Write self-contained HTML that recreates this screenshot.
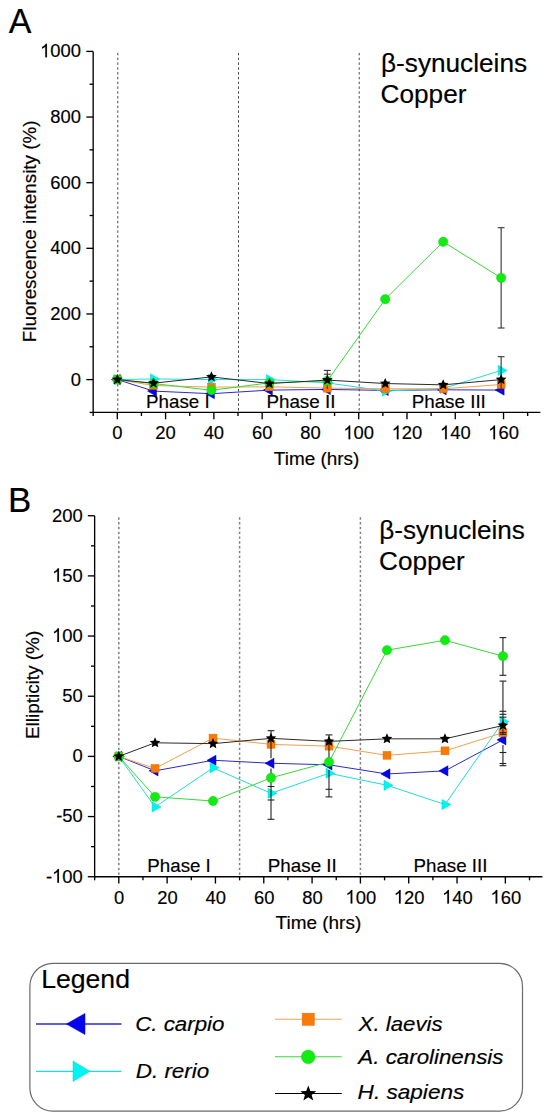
<!DOCTYPE html>
<html><head><meta charset="utf-8"><style>
html,body{margin:0;padding:0;background:#fff;width:550px;height:1119px;overflow:hidden}
svg{display:block}
</style></head><body>
<svg width="550" height="1119" viewBox="0 0 550 1119">
<rect width="550" height="1119" fill="#fff"/>
<line x1="117.80" y1="52.90" x2="117.80" y2="412.42" stroke="#444" stroke-width="1.0" stroke-dasharray="2.4 2.4"/>
<line x1="238.50" y1="52.90" x2="238.50" y2="412.42" stroke="#444" stroke-width="1.0" stroke-dasharray="2.4 2.4"/>
<line x1="359.20" y1="52.90" x2="359.20" y2="412.42" stroke="#444" stroke-width="1.0" stroke-dasharray="2.4 2.4"/>
<line x1="93.16" y1="51.40" x2="93.16" y2="413.10" stroke="#000" stroke-width="1.35"/>
<line x1="92.48" y1="412.42" x2="540.40" y2="412.42" stroke="#000" stroke-width="1.35"/>
<line x1="86.36" y1="51.40" x2="93.16" y2="51.40" stroke="#000" stroke-width="1.35"/>
<g transform="translate(40.07,57.30) scale(1,1.035)"><path transform="translate(0.00,0) scale(0.00898,-0.00898)" d="M763 0L583 0L583 1147C540 1106 483 1065 413 1024C343 983 280 952 223 931L223 1105C324 1152 412 1210 487 1278C562 1346 615 1412 646 1466L763 1466Z" fill="#000" stroke="#000" stroke-width="20.0"/><text x="10.23" y="0" font-size="18.4" font-family="Liberation Sans, sans-serif" stroke="#000" stroke-width="0.18">0</text><text x="20.47" y="0" font-size="18.4" font-family="Liberation Sans, sans-serif" stroke="#000" stroke-width="0.18">0</text><text x="30.70" y="0" font-size="18.4" font-family="Liberation Sans, sans-serif" stroke="#000" stroke-width="0.18">0</text></g>
<line x1="86.36" y1="117.04" x2="93.16" y2="117.04" stroke="#000" stroke-width="1.35"/>
<g transform="translate(50.30,122.94) scale(1,1.035)"><text x="0.00" y="0" font-size="18.4" font-family="Liberation Sans, sans-serif" stroke="#000" stroke-width="0.18">8</text><text x="10.23" y="0" font-size="18.4" font-family="Liberation Sans, sans-serif" stroke="#000" stroke-width="0.18">0</text><text x="20.47" y="0" font-size="18.4" font-family="Liberation Sans, sans-serif" stroke="#000" stroke-width="0.18">0</text></g>
<line x1="86.36" y1="182.68" x2="93.16" y2="182.68" stroke="#000" stroke-width="1.35"/>
<g transform="translate(50.30,188.58) scale(1,1.035)"><text x="0.00" y="0" font-size="18.4" font-family="Liberation Sans, sans-serif" stroke="#000" stroke-width="0.18">6</text><text x="10.23" y="0" font-size="18.4" font-family="Liberation Sans, sans-serif" stroke="#000" stroke-width="0.18">0</text><text x="20.47" y="0" font-size="18.4" font-family="Liberation Sans, sans-serif" stroke="#000" stroke-width="0.18">0</text></g>
<line x1="86.36" y1="248.32" x2="93.16" y2="248.32" stroke="#000" stroke-width="1.35"/>
<g transform="translate(50.30,254.22) scale(1,1.035)"><text x="0.00" y="0" font-size="18.4" font-family="Liberation Sans, sans-serif" stroke="#000" stroke-width="0.18">4</text><text x="10.23" y="0" font-size="18.4" font-family="Liberation Sans, sans-serif" stroke="#000" stroke-width="0.18">0</text><text x="20.47" y="0" font-size="18.4" font-family="Liberation Sans, sans-serif" stroke="#000" stroke-width="0.18">0</text></g>
<line x1="86.36" y1="313.96" x2="93.16" y2="313.96" stroke="#000" stroke-width="1.35"/>
<g transform="translate(50.30,319.86) scale(1,1.035)"><text x="0.00" y="0" font-size="18.4" font-family="Liberation Sans, sans-serif" stroke="#000" stroke-width="0.18">2</text><text x="10.23" y="0" font-size="18.4" font-family="Liberation Sans, sans-serif" stroke="#000" stroke-width="0.18">0</text><text x="20.47" y="0" font-size="18.4" font-family="Liberation Sans, sans-serif" stroke="#000" stroke-width="0.18">0</text></g>
<line x1="86.36" y1="379.60" x2="93.16" y2="379.60" stroke="#000" stroke-width="1.35"/>
<g transform="translate(70.77,385.50) scale(1,1.035)"><text x="0.00" y="0" font-size="18.4" font-family="Liberation Sans, sans-serif" stroke="#000" stroke-width="0.18">0</text></g>
<line x1="89.56" y1="84.22" x2="93.16" y2="84.22" stroke="#000" stroke-width="1.35"/>
<line x1="89.56" y1="149.86" x2="93.16" y2="149.86" stroke="#000" stroke-width="1.35"/>
<line x1="89.56" y1="215.50" x2="93.16" y2="215.50" stroke="#000" stroke-width="1.35"/>
<line x1="89.56" y1="281.14" x2="93.16" y2="281.14" stroke="#000" stroke-width="1.35"/>
<line x1="89.56" y1="346.78" x2="93.16" y2="346.78" stroke="#000" stroke-width="1.35"/>
<line x1="89.56" y1="412.42" x2="93.16" y2="412.42" stroke="#000" stroke-width="1.35"/>
<line x1="93.16" y1="412.42" x2="93.16" y2="416.02" stroke="#000" stroke-width="1.35"/>
<line x1="117.30" y1="412.42" x2="117.30" y2="419.22" stroke="#000" stroke-width="1.35"/>
<g transform="translate(112.18,439.20) scale(1,1.035)"><text x="0.00" y="0" font-size="18.4" font-family="Liberation Sans, sans-serif" stroke="#000" stroke-width="0.18">0</text></g>
<line x1="141.44" y1="412.42" x2="141.44" y2="416.02" stroke="#000" stroke-width="1.35"/>
<line x1="165.58" y1="412.42" x2="165.58" y2="419.22" stroke="#000" stroke-width="1.35"/>
<g transform="translate(155.35,439.20) scale(1,1.035)"><text x="0.00" y="0" font-size="18.4" font-family="Liberation Sans, sans-serif" stroke="#000" stroke-width="0.18">2</text><text x="10.23" y="0" font-size="18.4" font-family="Liberation Sans, sans-serif" stroke="#000" stroke-width="0.18">0</text></g>
<line x1="189.72" y1="412.42" x2="189.72" y2="416.02" stroke="#000" stroke-width="1.35"/>
<line x1="213.86" y1="412.42" x2="213.86" y2="419.22" stroke="#000" stroke-width="1.35"/>
<g transform="translate(203.63,439.20) scale(1,1.035)"><text x="0.00" y="0" font-size="18.4" font-family="Liberation Sans, sans-serif" stroke="#000" stroke-width="0.18">4</text><text x="10.23" y="0" font-size="18.4" font-family="Liberation Sans, sans-serif" stroke="#000" stroke-width="0.18">0</text></g>
<line x1="238.00" y1="412.42" x2="238.00" y2="416.02" stroke="#000" stroke-width="1.35"/>
<line x1="262.14" y1="412.42" x2="262.14" y2="419.22" stroke="#000" stroke-width="1.35"/>
<g transform="translate(251.91,439.20) scale(1,1.035)"><text x="0.00" y="0" font-size="18.4" font-family="Liberation Sans, sans-serif" stroke="#000" stroke-width="0.18">6</text><text x="10.23" y="0" font-size="18.4" font-family="Liberation Sans, sans-serif" stroke="#000" stroke-width="0.18">0</text></g>
<line x1="286.28" y1="412.42" x2="286.28" y2="416.02" stroke="#000" stroke-width="1.35"/>
<line x1="310.42" y1="412.42" x2="310.42" y2="419.22" stroke="#000" stroke-width="1.35"/>
<g transform="translate(300.19,439.20) scale(1,1.035)"><text x="0.00" y="0" font-size="18.4" font-family="Liberation Sans, sans-serif" stroke="#000" stroke-width="0.18">8</text><text x="10.23" y="0" font-size="18.4" font-family="Liberation Sans, sans-serif" stroke="#000" stroke-width="0.18">0</text></g>
<line x1="334.56" y1="412.42" x2="334.56" y2="416.02" stroke="#000" stroke-width="1.35"/>
<line x1="358.70" y1="412.42" x2="358.70" y2="419.22" stroke="#000" stroke-width="1.35"/>
<g transform="translate(343.35,439.20) scale(1,1.035)"><path transform="translate(0.00,0) scale(0.00898,-0.00898)" d="M763 0L583 0L583 1147C540 1106 483 1065 413 1024C343 983 280 952 223 931L223 1105C324 1152 412 1210 487 1278C562 1346 615 1412 646 1466L763 1466Z" fill="#000" stroke="#000" stroke-width="20.0"/><text x="10.23" y="0" font-size="18.4" font-family="Liberation Sans, sans-serif" stroke="#000" stroke-width="0.18">0</text><text x="20.47" y="0" font-size="18.4" font-family="Liberation Sans, sans-serif" stroke="#000" stroke-width="0.18">0</text></g>
<line x1="382.84" y1="412.42" x2="382.84" y2="416.02" stroke="#000" stroke-width="1.35"/>
<line x1="406.98" y1="412.42" x2="406.98" y2="419.22" stroke="#000" stroke-width="1.35"/>
<g transform="translate(391.63,439.20) scale(1,1.035)"><path transform="translate(0.00,0) scale(0.00898,-0.00898)" d="M763 0L583 0L583 1147C540 1106 483 1065 413 1024C343 983 280 952 223 931L223 1105C324 1152 412 1210 487 1278C562 1346 615 1412 646 1466L763 1466Z" fill="#000" stroke="#000" stroke-width="20.0"/><text x="10.23" y="0" font-size="18.4" font-family="Liberation Sans, sans-serif" stroke="#000" stroke-width="0.18">2</text><text x="20.47" y="0" font-size="18.4" font-family="Liberation Sans, sans-serif" stroke="#000" stroke-width="0.18">0</text></g>
<line x1="431.12" y1="412.42" x2="431.12" y2="416.02" stroke="#000" stroke-width="1.35"/>
<line x1="455.26" y1="412.42" x2="455.26" y2="419.22" stroke="#000" stroke-width="1.35"/>
<g transform="translate(439.91,439.20) scale(1,1.035)"><path transform="translate(0.00,0) scale(0.00898,-0.00898)" d="M763 0L583 0L583 1147C540 1106 483 1065 413 1024C343 983 280 952 223 931L223 1105C324 1152 412 1210 487 1278C562 1346 615 1412 646 1466L763 1466Z" fill="#000" stroke="#000" stroke-width="20.0"/><text x="10.23" y="0" font-size="18.4" font-family="Liberation Sans, sans-serif" stroke="#000" stroke-width="0.18">4</text><text x="20.47" y="0" font-size="18.4" font-family="Liberation Sans, sans-serif" stroke="#000" stroke-width="0.18">0</text></g>
<line x1="479.40" y1="412.42" x2="479.40" y2="416.02" stroke="#000" stroke-width="1.35"/>
<line x1="503.54" y1="412.42" x2="503.54" y2="419.22" stroke="#000" stroke-width="1.35"/>
<g transform="translate(488.19,439.20) scale(1,1.035)"><path transform="translate(0.00,0) scale(0.00898,-0.00898)" d="M763 0L583 0L583 1147C540 1106 483 1065 413 1024C343 983 280 952 223 931L223 1105C324 1152 412 1210 487 1278C562 1346 615 1412 646 1466L763 1466Z" fill="#000" stroke="#000" stroke-width="20.0"/><text x="10.23" y="0" font-size="18.4" font-family="Liberation Sans, sans-serif" stroke="#000" stroke-width="0.18">6</text><text x="20.47" y="0" font-size="18.4" font-family="Liberation Sans, sans-serif" stroke="#000" stroke-width="0.18">0</text></g>
<line x1="527.68" y1="412.42" x2="527.68" y2="416.02" stroke="#000" stroke-width="1.35"/>
<text transform="translate(273.82,464.50) scale(1.0078,1)" font-size="18.8" font-family="Liberation Sans, sans-serif" stroke="#000" stroke-width="0.18">Time (hrs)</text>
<text transform="translate(36.00,342.20) rotate(-90) scale(1.0016,1)" font-size="18.8" font-family="Liberation Sans, sans-serif" stroke="#000" stroke-width="0.18">Fluorescence intensity (%)</text>
<text transform="translate(146.02,408.40) scale(1.0732,1)" font-size="17.5" font-family="Liberation Sans, sans-serif" stroke="#000" stroke-width="0.18">Phase I</text>
<text transform="translate(266.42,408.40) scale(1.0743,1)" font-size="17.5" font-family="Liberation Sans, sans-serif" stroke="#000" stroke-width="0.18">Phase II</text>
<text transform="translate(411.72,408.40) scale(1.0737,1)" font-size="17.5" font-family="Liberation Sans, sans-serif" stroke="#000" stroke-width="0.18">Phase III</text>
<text transform="translate(8.68,33.10) scale(0.9846,1)" font-size="34.5" font-family="Liberation Sans, sans-serif" stroke="#000" stroke-width="0.18">A</text>
<text transform="translate(381.02,72.00) scale(1.0000,1)" font-size="26.2" font-family="Liberation Sans, sans-serif" stroke="#000" stroke-width="0.18">β-synucleins</text>
<text transform="translate(380.52,103.40) scale(1.0006,1)" font-size="26.2" font-family="Liberation Sans, sans-serif" stroke="#000" stroke-width="0.18">Copper</text>
<polyline points="117.30,379.60 153.51,391.09 211.45,393.71 269.38,390.10 327.32,389.45 385.25,390.43 443.19,389.77 501.13,390.10" fill="none" stroke="#2a2ac8" stroke-width="1.0"/>
<polygon points="111.30,379.60 120.30,374.50 120.30,384.70" fill="#0404ee" stroke="#0000a0" stroke-width="0.5" stroke-linejoin="round"/>
<polygon points="147.51,391.09 156.51,385.99 156.51,396.19" fill="#0404ee" stroke="#0000a0" stroke-width="0.5" stroke-linejoin="round"/>
<polygon points="205.45,393.71 214.45,388.61 214.45,398.81" fill="#0404ee" stroke="#0000a0" stroke-width="0.5" stroke-linejoin="round"/>
<polygon points="263.38,390.10 272.38,385.00 272.38,395.20" fill="#0404ee" stroke="#0000a0" stroke-width="0.5" stroke-linejoin="round"/>
<polygon points="321.32,389.45 330.32,384.35 330.32,394.55" fill="#0404ee" stroke="#0000a0" stroke-width="0.5" stroke-linejoin="round"/>
<polygon points="379.25,390.43 388.25,385.33 388.25,395.53" fill="#0404ee" stroke="#0000a0" stroke-width="0.5" stroke-linejoin="round"/>
<polygon points="437.19,389.77 446.19,384.67 446.19,394.87" fill="#0404ee" stroke="#0000a0" stroke-width="0.5" stroke-linejoin="round"/>
<polygon points="495.13,390.10 504.13,385.00 504.13,395.20" fill="#0404ee" stroke="#0000a0" stroke-width="0.5" stroke-linejoin="round"/>
<polyline points="117.30,379.60 153.51,378.94 211.45,379.60 269.38,379.60 327.32,382.88 385.25,391.09 443.19,388.46 501.13,370.41" fill="none" stroke="#22dcdc" stroke-width="1.0"/>
<polygon points="123.30,379.60 114.30,374.50 114.30,384.70" fill="#00f4f0" stroke="#00d8d8" stroke-width="0.5" stroke-linejoin="round"/>
<polygon points="159.51,378.94 150.51,373.84 150.51,384.04" fill="#00f4f0" stroke="#00d8d8" stroke-width="0.5" stroke-linejoin="round"/>
<polygon points="217.45,379.60 208.45,374.50 208.45,384.70" fill="#00f4f0" stroke="#00d8d8" stroke-width="0.5" stroke-linejoin="round"/>
<polygon points="275.38,379.60 266.38,374.50 266.38,384.70" fill="#00f4f0" stroke="#00d8d8" stroke-width="0.5" stroke-linejoin="round"/>
<polygon points="333.32,382.88 324.32,377.78 324.32,387.98" fill="#00f4f0" stroke="#00d8d8" stroke-width="0.5" stroke-linejoin="round"/>
<polygon points="391.25,391.09 382.25,385.99 382.25,396.19" fill="#00f4f0" stroke="#00d8d8" stroke-width="0.5" stroke-linejoin="round"/>
<polygon points="449.19,388.46 440.19,383.36 440.19,393.56" fill="#00f4f0" stroke="#00d8d8" stroke-width="0.5" stroke-linejoin="round"/>
<polygon points="507.13,370.41 498.13,365.31 498.13,375.51" fill="#00f4f0" stroke="#00d8d8" stroke-width="0.5" stroke-linejoin="round"/>
<polyline points="117.30,379.60 153.51,385.51 211.45,387.15 269.38,386.82 327.32,388.13 385.25,388.79 443.19,388.79 501.13,384.52" fill="none" stroke="#f3a04c" stroke-width="1.0"/>
<rect x="113.30" y="375.60" width="8.00" height="8.00" fill="#f87b0a" stroke="#e06a00" stroke-width="0.4"/>
<rect x="149.51" y="381.51" width="8.00" height="8.00" fill="#f87b0a" stroke="#e06a00" stroke-width="0.4"/>
<rect x="207.45" y="383.15" width="8.00" height="8.00" fill="#f87b0a" stroke="#e06a00" stroke-width="0.4"/>
<rect x="265.38" y="382.82" width="8.00" height="8.00" fill="#f87b0a" stroke="#e06a00" stroke-width="0.4"/>
<rect x="323.32" y="384.13" width="8.00" height="8.00" fill="#f87b0a" stroke="#e06a00" stroke-width="0.4"/>
<rect x="381.25" y="384.79" width="8.00" height="8.00" fill="#f87b0a" stroke="#e06a00" stroke-width="0.4"/>
<rect x="439.19" y="384.79" width="8.00" height="8.00" fill="#f87b0a" stroke="#e06a00" stroke-width="0.4"/>
<rect x="497.13" y="380.52" width="8.00" height="8.00" fill="#f87b0a" stroke="#e06a00" stroke-width="0.4"/>
<line x1="327.32" y1="370.40" x2="327.32" y2="389.00" stroke="#333" stroke-width="1.1"/>
<line x1="501.13" y1="227.70" x2="501.13" y2="328.00" stroke="#333" stroke-width="1.1"/>
<line x1="501.13" y1="356.70" x2="501.13" y2="392.00" stroke="#333" stroke-width="1.1"/>
<line x1="323.92" y1="370.40" x2="330.72" y2="370.40" stroke="#333" stroke-width="1.1"/>
<line x1="323.92" y1="374.20" x2="330.72" y2="374.20" stroke="#333" stroke-width="1.1"/>
<line x1="497.73" y1="227.70" x2="504.53" y2="227.70" stroke="#333" stroke-width="1.1"/>
<line x1="497.73" y1="328.00" x2="504.53" y2="328.00" stroke="#333" stroke-width="1.1"/>
<line x1="497.73" y1="356.70" x2="504.53" y2="356.70" stroke="#333" stroke-width="1.1"/>
<polyline points="117.30,379.60 153.51,383.54 211.45,390.27 269.38,382.88 327.32,380.91 385.25,299.19 443.19,241.76 501.13,277.86" fill="none" stroke="#38d838" stroke-width="1.0"/>
<circle cx="117.30" cy="379.60" r="4.70" fill="#12ec12" stroke="#10d010" stroke-width="0.4"/>
<circle cx="153.51" cy="383.54" r="4.70" fill="#12ec12" stroke="#10d010" stroke-width="0.4"/>
<circle cx="211.45" cy="390.27" r="4.70" fill="#12ec12" stroke="#10d010" stroke-width="0.4"/>
<circle cx="269.38" cy="382.88" r="4.70" fill="#12ec12" stroke="#10d010" stroke-width="0.4"/>
<circle cx="327.32" cy="380.91" r="4.70" fill="#12ec12" stroke="#10d010" stroke-width="0.4"/>
<circle cx="385.25" cy="299.19" r="4.70" fill="#12ec12" stroke="#10d010" stroke-width="0.4"/>
<circle cx="443.19" cy="241.76" r="4.70" fill="#12ec12" stroke="#10d010" stroke-width="0.4"/>
<circle cx="501.13" cy="277.86" r="4.70" fill="#12ec12" stroke="#10d010" stroke-width="0.4"/>
<polyline points="117.30,379.60 153.51,383.21 211.45,376.91 269.38,383.54 327.32,380.09 385.25,383.54 443.19,384.85 501.13,379.60" fill="none" stroke="#2a2a2a" stroke-width="1.0"/>
<polygon points="117.30,374.00 118.85,377.47 122.63,377.87 119.80,380.41 120.59,384.13 117.30,382.23 114.01,384.13 114.80,380.41 111.97,377.87 115.75,377.47" fill="#000"/>
<polygon points="153.51,377.61 155.06,381.08 158.84,381.48 156.01,384.02 156.80,387.74 153.51,385.84 150.22,387.74 151.01,384.02 148.18,381.48 151.96,381.08" fill="#000"/>
<polygon points="211.45,371.31 212.99,374.78 216.77,375.18 213.95,377.72 214.74,381.44 211.45,379.54 208.15,381.44 208.94,377.72 206.12,375.18 209.90,374.78" fill="#000"/>
<polygon points="269.38,377.94 270.93,381.41 274.71,381.81 271.89,384.35 272.67,388.07 269.38,386.17 266.09,388.07 266.88,384.35 264.06,381.81 267.83,381.41" fill="#000"/>
<polygon points="327.32,374.49 328.87,377.96 332.64,378.36 329.82,380.91 330.61,384.62 327.32,382.72 324.03,384.62 324.81,380.91 321.99,378.36 325.77,377.96" fill="#000"/>
<polygon points="385.25,377.94 386.80,381.41 390.58,381.81 387.76,384.35 388.55,388.07 385.25,386.17 381.96,388.07 382.75,384.35 379.93,381.81 383.71,381.41" fill="#000"/>
<polygon points="443.19,379.25 444.74,382.72 448.52,383.12 445.69,385.66 446.48,389.38 443.19,387.48 439.90,389.38 440.69,385.66 437.86,383.12 441.64,382.72" fill="#000"/>
<polygon points="501.13,374.00 502.67,377.47 506.45,377.87 503.63,380.41 504.42,384.13 501.13,382.23 497.83,384.13 498.62,380.41 495.80,377.87 499.58,377.47" fill="#000"/>
<line x1="118.80" y1="517.24" x2="118.80" y2="876.73" stroke="#808080" stroke-width="1.5" stroke-dasharray="2.4 2.4"/>
<line x1="239.60" y1="517.24" x2="239.60" y2="876.73" stroke="#808080" stroke-width="1.5" stroke-dasharray="2.4 2.4"/>
<line x1="360.40" y1="517.24" x2="360.40" y2="876.73" stroke="#808080" stroke-width="1.5" stroke-dasharray="2.4 2.4"/>
<line x1="94.64" y1="515.74" x2="94.64" y2="877.40" stroke="#000" stroke-width="1.35"/>
<line x1="93.97" y1="876.73" x2="542.40" y2="876.73" stroke="#000" stroke-width="1.35"/>
<line x1="87.84" y1="515.74" x2="94.64" y2="515.74" stroke="#000" stroke-width="1.35"/>
<g transform="translate(52.10,521.64) scale(1,1.035)"><text x="0.00" y="0" font-size="18.4" font-family="Liberation Sans, sans-serif" stroke="#000" stroke-width="0.18">2</text><text x="10.23" y="0" font-size="18.4" font-family="Liberation Sans, sans-serif" stroke="#000" stroke-width="0.18">0</text><text x="20.47" y="0" font-size="18.4" font-family="Liberation Sans, sans-serif" stroke="#000" stroke-width="0.18">0</text></g>
<line x1="87.84" y1="575.90" x2="94.64" y2="575.90" stroke="#000" stroke-width="1.35"/>
<g transform="translate(52.10,581.80) scale(1,1.035)"><path transform="translate(0.00,0) scale(0.00898,-0.00898)" d="M763 0L583 0L583 1147C540 1106 483 1065 413 1024C343 983 280 952 223 931L223 1105C324 1152 412 1210 487 1278C562 1346 615 1412 646 1466L763 1466Z" fill="#000" stroke="#000" stroke-width="20.0"/><text x="10.23" y="0" font-size="18.4" font-family="Liberation Sans, sans-serif" stroke="#000" stroke-width="0.18">5</text><text x="20.47" y="0" font-size="18.4" font-family="Liberation Sans, sans-serif" stroke="#000" stroke-width="0.18">0</text></g>
<line x1="87.84" y1="636.07" x2="94.64" y2="636.07" stroke="#000" stroke-width="1.35"/>
<g transform="translate(52.10,641.97) scale(1,1.035)"><path transform="translate(0.00,0) scale(0.00898,-0.00898)" d="M763 0L583 0L583 1147C540 1106 483 1065 413 1024C343 983 280 952 223 931L223 1105C324 1152 412 1210 487 1278C562 1346 615 1412 646 1466L763 1466Z" fill="#000" stroke="#000" stroke-width="20.0"/><text x="10.23" y="0" font-size="18.4" font-family="Liberation Sans, sans-serif" stroke="#000" stroke-width="0.18">0</text><text x="20.47" y="0" font-size="18.4" font-family="Liberation Sans, sans-serif" stroke="#000" stroke-width="0.18">0</text></g>
<line x1="87.84" y1="696.24" x2="94.64" y2="696.24" stroke="#000" stroke-width="1.35"/>
<g transform="translate(62.33,702.13) scale(1,1.035)"><text x="0.00" y="0" font-size="18.4" font-family="Liberation Sans, sans-serif" stroke="#000" stroke-width="0.18">5</text><text x="10.23" y="0" font-size="18.4" font-family="Liberation Sans, sans-serif" stroke="#000" stroke-width="0.18">0</text></g>
<line x1="87.84" y1="756.40" x2="94.64" y2="756.40" stroke="#000" stroke-width="1.35"/>
<g transform="translate(72.57,762.30) scale(1,1.035)"><text x="0.00" y="0" font-size="18.4" font-family="Liberation Sans, sans-serif" stroke="#000" stroke-width="0.18">0</text></g>
<line x1="87.84" y1="816.56" x2="94.64" y2="816.56" stroke="#000" stroke-width="1.35"/>
<g transform="translate(56.21,822.46) scale(1,1.035)"><text x="0.00" y="0" font-size="18.4" font-family="Liberation Sans, sans-serif" stroke="#000" stroke-width="0.18">-</text><text x="6.13" y="0" font-size="18.4" font-family="Liberation Sans, sans-serif" stroke="#000" stroke-width="0.18">5</text><text x="16.36" y="0" font-size="18.4" font-family="Liberation Sans, sans-serif" stroke="#000" stroke-width="0.18">0</text></g>
<line x1="87.84" y1="876.73" x2="94.64" y2="876.73" stroke="#000" stroke-width="1.35"/>
<g transform="translate(45.97,882.63) scale(1,1.035)"><text x="0.00" y="0" font-size="18.4" font-family="Liberation Sans, sans-serif" stroke="#000" stroke-width="0.18">-</text><path transform="translate(6.13,0) scale(0.00898,-0.00898)" d="M763 0L583 0L583 1147C540 1106 483 1065 413 1024C343 983 280 952 223 931L223 1105C324 1152 412 1210 487 1278C562 1346 615 1412 646 1466L763 1466Z" fill="#000" stroke="#000" stroke-width="20.0"/><text x="16.36" y="0" font-size="18.4" font-family="Liberation Sans, sans-serif" stroke="#000" stroke-width="0.18">0</text><text x="26.59" y="0" font-size="18.4" font-family="Liberation Sans, sans-serif" stroke="#000" stroke-width="0.18">0</text></g>
<line x1="91.04" y1="545.82" x2="94.64" y2="545.82" stroke="#000" stroke-width="1.35"/>
<line x1="91.04" y1="605.99" x2="94.64" y2="605.99" stroke="#000" stroke-width="1.35"/>
<line x1="91.04" y1="666.15" x2="94.64" y2="666.15" stroke="#000" stroke-width="1.35"/>
<line x1="91.04" y1="726.32" x2="94.64" y2="726.32" stroke="#000" stroke-width="1.35"/>
<line x1="91.04" y1="786.48" x2="94.64" y2="786.48" stroke="#000" stroke-width="1.35"/>
<line x1="91.04" y1="846.65" x2="94.64" y2="846.65" stroke="#000" stroke-width="1.35"/>
<line x1="94.64" y1="876.73" x2="94.64" y2="880.33" stroke="#000" stroke-width="1.35"/>
<line x1="118.80" y1="876.73" x2="118.80" y2="883.53" stroke="#000" stroke-width="1.35"/>
<g transform="translate(114.08,903.60) scale(1,1.035)"><text x="0.00" y="0" font-size="18.4" font-family="Liberation Sans, sans-serif" stroke="#000" stroke-width="0.18">0</text></g>
<line x1="142.96" y1="876.73" x2="142.96" y2="880.33" stroke="#000" stroke-width="1.35"/>
<line x1="167.12" y1="876.73" x2="167.12" y2="883.53" stroke="#000" stroke-width="1.35"/>
<g transform="translate(157.29,903.60) scale(1,1.035)"><text x="0.00" y="0" font-size="18.4" font-family="Liberation Sans, sans-serif" stroke="#000" stroke-width="0.18">2</text><text x="10.23" y="0" font-size="18.4" font-family="Liberation Sans, sans-serif" stroke="#000" stroke-width="0.18">0</text></g>
<line x1="191.28" y1="876.73" x2="191.28" y2="880.33" stroke="#000" stroke-width="1.35"/>
<line x1="215.44" y1="876.73" x2="215.44" y2="883.53" stroke="#000" stroke-width="1.35"/>
<g transform="translate(205.61,903.60) scale(1,1.035)"><text x="0.00" y="0" font-size="18.4" font-family="Liberation Sans, sans-serif" stroke="#000" stroke-width="0.18">4</text><text x="10.23" y="0" font-size="18.4" font-family="Liberation Sans, sans-serif" stroke="#000" stroke-width="0.18">0</text></g>
<line x1="239.60" y1="876.73" x2="239.60" y2="880.33" stroke="#000" stroke-width="1.35"/>
<line x1="263.76" y1="876.73" x2="263.76" y2="883.53" stroke="#000" stroke-width="1.35"/>
<g transform="translate(253.93,903.60) scale(1,1.035)"><text x="0.00" y="0" font-size="18.4" font-family="Liberation Sans, sans-serif" stroke="#000" stroke-width="0.18">6</text><text x="10.23" y="0" font-size="18.4" font-family="Liberation Sans, sans-serif" stroke="#000" stroke-width="0.18">0</text></g>
<line x1="287.92" y1="876.73" x2="287.92" y2="880.33" stroke="#000" stroke-width="1.35"/>
<line x1="312.08" y1="876.73" x2="312.08" y2="883.53" stroke="#000" stroke-width="1.35"/>
<g transform="translate(302.25,903.60) scale(1,1.035)"><text x="0.00" y="0" font-size="18.4" font-family="Liberation Sans, sans-serif" stroke="#000" stroke-width="0.18">8</text><text x="10.23" y="0" font-size="18.4" font-family="Liberation Sans, sans-serif" stroke="#000" stroke-width="0.18">0</text></g>
<line x1="336.24" y1="876.73" x2="336.24" y2="880.33" stroke="#000" stroke-width="1.35"/>
<line x1="360.40" y1="876.73" x2="360.40" y2="883.53" stroke="#000" stroke-width="1.35"/>
<g transform="translate(345.45,903.60) scale(1,1.035)"><path transform="translate(0.00,0) scale(0.00898,-0.00898)" d="M763 0L583 0L583 1147C540 1106 483 1065 413 1024C343 983 280 952 223 931L223 1105C324 1152 412 1210 487 1278C562 1346 615 1412 646 1466L763 1466Z" fill="#000" stroke="#000" stroke-width="20.0"/><text x="10.23" y="0" font-size="18.4" font-family="Liberation Sans, sans-serif" stroke="#000" stroke-width="0.18">0</text><text x="20.47" y="0" font-size="18.4" font-family="Liberation Sans, sans-serif" stroke="#000" stroke-width="0.18">0</text></g>
<line x1="384.56" y1="876.73" x2="384.56" y2="880.33" stroke="#000" stroke-width="1.35"/>
<line x1="408.72" y1="876.73" x2="408.72" y2="883.53" stroke="#000" stroke-width="1.35"/>
<g transform="translate(393.77,903.60) scale(1,1.035)"><path transform="translate(0.00,0) scale(0.00898,-0.00898)" d="M763 0L583 0L583 1147C540 1106 483 1065 413 1024C343 983 280 952 223 931L223 1105C324 1152 412 1210 487 1278C562 1346 615 1412 646 1466L763 1466Z" fill="#000" stroke="#000" stroke-width="20.0"/><text x="10.23" y="0" font-size="18.4" font-family="Liberation Sans, sans-serif" stroke="#000" stroke-width="0.18">2</text><text x="20.47" y="0" font-size="18.4" font-family="Liberation Sans, sans-serif" stroke="#000" stroke-width="0.18">0</text></g>
<line x1="432.88" y1="876.73" x2="432.88" y2="880.33" stroke="#000" stroke-width="1.35"/>
<line x1="457.04" y1="876.73" x2="457.04" y2="883.53" stroke="#000" stroke-width="1.35"/>
<g transform="translate(442.09,903.60) scale(1,1.035)"><path transform="translate(0.00,0) scale(0.00898,-0.00898)" d="M763 0L583 0L583 1147C540 1106 483 1065 413 1024C343 983 280 952 223 931L223 1105C324 1152 412 1210 487 1278C562 1346 615 1412 646 1466L763 1466Z" fill="#000" stroke="#000" stroke-width="20.0"/><text x="10.23" y="0" font-size="18.4" font-family="Liberation Sans, sans-serif" stroke="#000" stroke-width="0.18">4</text><text x="20.47" y="0" font-size="18.4" font-family="Liberation Sans, sans-serif" stroke="#000" stroke-width="0.18">0</text></g>
<line x1="481.20" y1="876.73" x2="481.20" y2="880.33" stroke="#000" stroke-width="1.35"/>
<line x1="505.36" y1="876.73" x2="505.36" y2="883.53" stroke="#000" stroke-width="1.35"/>
<g transform="translate(490.41,903.60) scale(1,1.035)"><path transform="translate(0.00,0) scale(0.00898,-0.00898)" d="M763 0L583 0L583 1147C540 1106 483 1065 413 1024C343 983 280 952 223 931L223 1105C324 1152 412 1210 487 1278C562 1346 615 1412 646 1466L763 1466Z" fill="#000" stroke="#000" stroke-width="20.0"/><text x="10.23" y="0" font-size="18.4" font-family="Liberation Sans, sans-serif" stroke="#000" stroke-width="0.18">6</text><text x="20.47" y="0" font-size="18.4" font-family="Liberation Sans, sans-serif" stroke="#000" stroke-width="0.18">0</text></g>
<line x1="529.52" y1="876.73" x2="529.52" y2="880.33" stroke="#000" stroke-width="1.35"/>
<text transform="translate(275.62,928.70) scale(1.0090,1)" font-size="18.8" font-family="Liberation Sans, sans-serif" stroke="#000" stroke-width="0.18">Time (hrs)</text>
<text transform="translate(39.00,739.11) rotate(-90) scale(1.0084,1)" font-size="18.8" font-family="Liberation Sans, sans-serif" stroke="#000" stroke-width="0.18">Ellipticity (%)</text>
<text transform="translate(147.34,871.50) scale(1.0402,1)" font-size="18" font-family="Liberation Sans, sans-serif" stroke="#000" stroke-width="0.18">Phase I</text>
<text transform="translate(267.73,871.50) scale(1.0465,1)" font-size="18" font-family="Liberation Sans, sans-serif" stroke="#000" stroke-width="0.18">Phase II</text>
<text transform="translate(413.54,871.50) scale(1.0416,1)" font-size="18" font-family="Liberation Sans, sans-serif" stroke="#000" stroke-width="0.18">Phase III</text>
<text transform="translate(7.99,511.80) scale(1.0122,1)" font-size="34.5" font-family="Liberation Sans, sans-serif" stroke="#000" stroke-width="0.18">B</text>
<text transform="translate(379.33,538.50) scale(0.9965,1)" font-size="26.2" font-family="Liberation Sans, sans-serif" stroke="#000" stroke-width="0.18">β-synucleins</text>
<text transform="translate(379.03,569.80) scale(0.9982,1)" font-size="26.2" font-family="Liberation Sans, sans-serif" stroke="#000" stroke-width="0.18">Copper</text>
<polyline points="118.80,756.40 155.04,770.84 213.02,760.25 271.01,763.26 328.99,764.82 386.98,773.97 444.96,770.84 502.94,739.85" fill="none" stroke="#2a2ac8" stroke-width="1.0"/>
<polygon points="112.80,756.40 121.80,751.30 121.80,761.50" fill="#0404ee" stroke="#0000a0" stroke-width="0.5" stroke-linejoin="round"/>
<polygon points="149.04,770.84 158.04,765.74 158.04,775.94" fill="#0404ee" stroke="#0000a0" stroke-width="0.5" stroke-linejoin="round"/>
<polygon points="207.02,760.25 216.02,755.15 216.02,765.35" fill="#0404ee" stroke="#0000a0" stroke-width="0.5" stroke-linejoin="round"/>
<polygon points="265.01,763.26 274.01,758.16 274.01,768.36" fill="#0404ee" stroke="#0000a0" stroke-width="0.5" stroke-linejoin="round"/>
<polygon points="322.99,764.82 331.99,759.72 331.99,769.92" fill="#0404ee" stroke="#0000a0" stroke-width="0.5" stroke-linejoin="round"/>
<polygon points="380.98,773.97 389.98,768.87 389.98,779.07" fill="#0404ee" stroke="#0000a0" stroke-width="0.5" stroke-linejoin="round"/>
<polygon points="438.96,770.84 447.96,765.74 447.96,775.94" fill="#0404ee" stroke="#0000a0" stroke-width="0.5" stroke-linejoin="round"/>
<polygon points="496.94,739.85 505.94,734.75 505.94,744.95" fill="#0404ee" stroke="#0000a0" stroke-width="0.5" stroke-linejoin="round"/>
<polyline points="118.80,756.40 155.04,806.94 213.02,767.83 271.01,793.34 328.99,773.25 386.98,785.28 444.96,804.53 502.94,721.50" fill="none" stroke="#22dcdc" stroke-width="1.0"/>
<polygon points="124.80,756.40 115.80,751.30 115.80,761.50" fill="#00f4f0" stroke="#00d8d8" stroke-width="0.5" stroke-linejoin="round"/>
<polygon points="161.04,806.94 152.04,801.84 152.04,812.04" fill="#00f4f0" stroke="#00d8d8" stroke-width="0.5" stroke-linejoin="round"/>
<polygon points="219.02,767.83 210.02,762.73 210.02,772.93" fill="#00f4f0" stroke="#00d8d8" stroke-width="0.5" stroke-linejoin="round"/>
<polygon points="277.01,793.34 268.01,788.24 268.01,798.44" fill="#00f4f0" stroke="#00d8d8" stroke-width="0.5" stroke-linejoin="round"/>
<polygon points="334.99,773.25 325.99,768.15 325.99,778.35" fill="#00f4f0" stroke="#00d8d8" stroke-width="0.5" stroke-linejoin="round"/>
<polygon points="392.98,785.28 383.98,780.18 383.98,790.38" fill="#00f4f0" stroke="#00d8d8" stroke-width="0.5" stroke-linejoin="round"/>
<polygon points="450.96,804.53 441.96,799.43 441.96,809.63" fill="#00f4f0" stroke="#00d8d8" stroke-width="0.5" stroke-linejoin="round"/>
<polygon points="508.94,721.50 499.94,716.40 499.94,726.60" fill="#00f4f0" stroke="#00d8d8" stroke-width="0.5" stroke-linejoin="round"/>
<polyline points="118.80,756.40 155.04,768.43 213.02,738.11 271.01,744.37 328.99,746.17 386.98,755.32 444.96,750.86 502.94,732.69" fill="none" stroke="#f3a04c" stroke-width="1.0"/>
<rect x="114.80" y="752.40" width="8.00" height="8.00" fill="#f87b0a" stroke="#e06a00" stroke-width="0.4"/>
<rect x="151.04" y="764.43" width="8.00" height="8.00" fill="#f87b0a" stroke="#e06a00" stroke-width="0.4"/>
<rect x="209.02" y="734.11" width="8.00" height="8.00" fill="#f87b0a" stroke="#e06a00" stroke-width="0.4"/>
<rect x="267.01" y="740.37" width="8.00" height="8.00" fill="#f87b0a" stroke="#e06a00" stroke-width="0.4"/>
<rect x="324.99" y="742.17" width="8.00" height="8.00" fill="#f87b0a" stroke="#e06a00" stroke-width="0.4"/>
<rect x="382.98" y="751.32" width="8.00" height="8.00" fill="#f87b0a" stroke="#e06a00" stroke-width="0.4"/>
<rect x="440.96" y="746.86" width="8.00" height="8.00" fill="#f87b0a" stroke="#e06a00" stroke-width="0.4"/>
<rect x="498.94" y="728.69" width="8.00" height="8.00" fill="#f87b0a" stroke="#e06a00" stroke-width="0.4"/>
<line x1="271.01" y1="730.70" x2="271.01" y2="758.20" stroke="#222" stroke-width="1.1"/>
<line x1="271.01" y1="768.40" x2="271.01" y2="819.30" stroke="#222" stroke-width="1.1"/>
<line x1="328.99" y1="734.90" x2="328.99" y2="760.00" stroke="#222" stroke-width="1.1"/>
<line x1="328.99" y1="770.00" x2="328.99" y2="796.90" stroke="#222" stroke-width="1.1"/>
<line x1="502.94" y1="637.60" x2="502.94" y2="675.30" stroke="#222" stroke-width="1.1"/>
<line x1="502.94" y1="681.10" x2="502.94" y2="735.00" stroke="#222" stroke-width="1.1"/>
<line x1="502.94" y1="745.00" x2="502.94" y2="765.70" stroke="#222" stroke-width="1.1"/>
<line x1="267.61" y1="730.70" x2="274.41" y2="730.70" stroke="#222" stroke-width="1.1"/>
<line x1="267.61" y1="819.30" x2="274.41" y2="819.30" stroke="#222" stroke-width="1.1"/>
<line x1="267.61" y1="786.50" x2="274.41" y2="786.50" stroke="#222" stroke-width="1.1"/>
<line x1="267.61" y1="800.00" x2="274.41" y2="800.00" stroke="#222" stroke-width="1.1"/>
<line x1="325.59" y1="734.90" x2="332.39" y2="734.90" stroke="#222" stroke-width="1.1"/>
<line x1="325.59" y1="796.90" x2="332.39" y2="796.90" stroke="#222" stroke-width="1.1"/>
<line x1="325.59" y1="789.30" x2="332.39" y2="789.30" stroke="#222" stroke-width="1.1"/>
<line x1="499.54" y1="637.60" x2="506.34" y2="637.60" stroke="#222" stroke-width="1.1"/>
<line x1="499.54" y1="675.30" x2="506.34" y2="675.30" stroke="#222" stroke-width="1.1"/>
<line x1="499.54" y1="681.10" x2="506.34" y2="681.10" stroke="#222" stroke-width="1.1"/>
<line x1="499.54" y1="711.30" x2="506.34" y2="711.30" stroke="#222" stroke-width="1.1"/>
<line x1="499.54" y1="714.30" x2="506.34" y2="714.30" stroke="#222" stroke-width="1.1"/>
<line x1="499.54" y1="717.20" x2="506.34" y2="717.20" stroke="#222" stroke-width="1.1"/>
<line x1="499.54" y1="732.60" x2="506.34" y2="732.60" stroke="#222" stroke-width="1.1"/>
<line x1="499.54" y1="734.30" x2="506.34" y2="734.30" stroke="#222" stroke-width="1.1"/>
<line x1="499.54" y1="752.50" x2="506.34" y2="752.50" stroke="#222" stroke-width="1.1"/>
<line x1="499.54" y1="763.50" x2="506.34" y2="763.50" stroke="#222" stroke-width="1.1"/>
<line x1="499.54" y1="765.70" x2="506.34" y2="765.70" stroke="#222" stroke-width="1.1"/>
<polyline points="118.80,756.40 155.04,796.83 213.02,801.04 271.01,777.82 328.99,762.06 386.98,650.15 444.96,640.28 502.94,656.17" fill="none" stroke="#38d838" stroke-width="1.0"/>
<circle cx="118.80" cy="756.40" r="4.70" fill="#12ec12" stroke="#10d010" stroke-width="0.4"/>
<circle cx="155.04" cy="796.83" r="4.70" fill="#12ec12" stroke="#10d010" stroke-width="0.4"/>
<circle cx="213.02" cy="801.04" r="4.70" fill="#12ec12" stroke="#10d010" stroke-width="0.4"/>
<circle cx="271.01" cy="777.82" r="4.70" fill="#12ec12" stroke="#10d010" stroke-width="0.4"/>
<circle cx="328.99" cy="762.06" r="4.70" fill="#12ec12" stroke="#10d010" stroke-width="0.4"/>
<circle cx="386.98" cy="650.15" r="4.70" fill="#12ec12" stroke="#10d010" stroke-width="0.4"/>
<circle cx="444.96" cy="640.28" r="4.70" fill="#12ec12" stroke="#10d010" stroke-width="0.4"/>
<circle cx="502.94" cy="656.17" r="4.70" fill="#12ec12" stroke="#10d010" stroke-width="0.4"/>
<polyline points="118.80,756.40 155.04,742.80 213.02,743.65 271.01,738.35 328.99,741.36 386.98,738.83 444.96,738.83 502.94,725.48" fill="none" stroke="#2a2a2a" stroke-width="1.0"/>
<polygon points="118.80,750.80 120.35,754.27 124.13,754.67 121.30,757.21 122.09,760.93 118.80,759.03 115.51,760.93 116.30,757.21 113.47,754.67 117.25,754.27" fill="#000"/>
<polygon points="155.04,737.20 156.59,740.67 160.37,741.07 157.54,743.62 158.33,747.33 155.04,745.43 151.75,747.33 152.54,743.62 149.71,741.07 153.49,740.67" fill="#000"/>
<polygon points="213.02,738.05 214.57,741.52 218.35,741.91 215.53,744.46 216.32,748.18 213.02,746.28 209.73,748.18 210.52,744.46 207.70,741.91 211.48,741.52" fill="#000"/>
<polygon points="271.01,732.75 272.56,736.22 276.33,736.62 273.51,739.16 274.30,742.88 271.01,740.98 267.72,742.88 268.50,739.16 265.68,736.62 269.46,736.22" fill="#000"/>
<polygon points="328.99,735.76 330.54,739.23 334.32,739.63 331.50,742.17 332.28,745.89 328.99,743.99 325.70,745.89 326.49,742.17 323.67,739.63 327.44,739.23" fill="#000"/>
<polygon points="386.98,733.23 388.52,736.70 392.30,737.10 389.48,739.65 390.27,743.36 386.98,741.46 383.68,743.36 384.47,739.65 381.65,737.10 385.43,736.70" fill="#000"/>
<polygon points="444.96,733.23 446.51,736.70 450.29,737.10 447.46,739.65 448.25,743.36 444.96,741.46 441.67,743.36 442.46,739.65 439.63,737.10 443.41,736.70" fill="#000"/>
<polygon points="502.94,719.88 504.49,723.35 508.27,723.74 505.45,726.29 506.24,730.01 502.94,728.11 499.65,730.01 500.44,726.29 497.62,723.74 501.40,723.35" fill="#000"/>
<rect x="29.9" y="963.3" width="492.6" height="147.8" rx="23" ry="23" fill="none" stroke="#6a6a6a" stroke-width="1.2"/>
<text transform="translate(41.17,988.40) scale(1.0646,1)" font-size="25" font-family="Liberation Sans, sans-serif" stroke="#000" stroke-width="0.18">Legend</text>
<line x1="36" y1="1024" x2="121.5" y2="1024" stroke="#2a2ac8" stroke-width="1.4"/>
<polygon points="66.40,1024.00 85.00,1013.40 85.00,1034.60" fill="#0404ee" stroke="#0000a0" stroke-width="0.5" stroke-linejoin="round"/>
<line x1="36" y1="1071.4" x2="121.5" y2="1071.4" stroke="#22dcdc" stroke-width="1.4"/>
<polygon points="90.17,1071.30 72.97,1061.00 72.97,1081.60" fill="#00f4f0" stroke="#00d8d8" stroke-width="0.5" stroke-linejoin="round"/>
<line x1="275" y1="1019.2" x2="341.8" y2="1019.2" stroke="#f3a04c" stroke-width="1.1"/>
<rect x="302.15" y="1013.15" width="12.30" height="12.30" fill="#f87b0a" stroke="#e06a00" stroke-width="0.4"/>
<line x1="275" y1="1056.8" x2="341.8" y2="1056.8" stroke="#38d838" stroke-width="1.1"/>
<circle cx="308.20" cy="1056.80" r="6.90" fill="#12ec12" stroke="#10d010" stroke-width="0.4"/>
<line x1="275" y1="1093.5" x2="341.8" y2="1093.5" stroke="#000" stroke-width="1.1"/>
<polygon points="308.30,1085.40 310.37,1090.95 316.29,1091.20 311.66,1094.89 313.24,1100.60 308.30,1097.33 303.36,1100.60 304.94,1094.89 300.31,1091.20 306.23,1090.95" fill="#000"/>
<text transform="translate(135.19,1031.30) scale(1.0732,1)" font-size="20.8" font-family="Liberation Sans, sans-serif" stroke="#000" stroke-width="0.18" font-style="italic">C. carpio</text>
<text transform="translate(135.72,1078.40) scale(1.0801,1)" font-size="20.8" font-family="Liberation Sans, sans-serif" stroke="#000" stroke-width="0.18" font-style="italic">D. rerio</text>
<text transform="translate(358.60,1030.70) scale(1.0684,1)" font-size="20.8" font-family="Liberation Sans, sans-serif" stroke="#000" stroke-width="0.18" font-style="italic">X. laevis</text>
<text transform="translate(358.37,1064.40) scale(1.0731,1)" font-size="20.8" font-family="Liberation Sans, sans-serif" stroke="#000" stroke-width="0.18" font-style="italic">A. carolinensis</text>
<text transform="translate(357.62,1098.70) scale(1.0859,1)" font-size="20.8" font-family="Liberation Sans, sans-serif" stroke="#000" stroke-width="0.18" font-style="italic">H. sapiens</text>
</svg>
</body></html>
